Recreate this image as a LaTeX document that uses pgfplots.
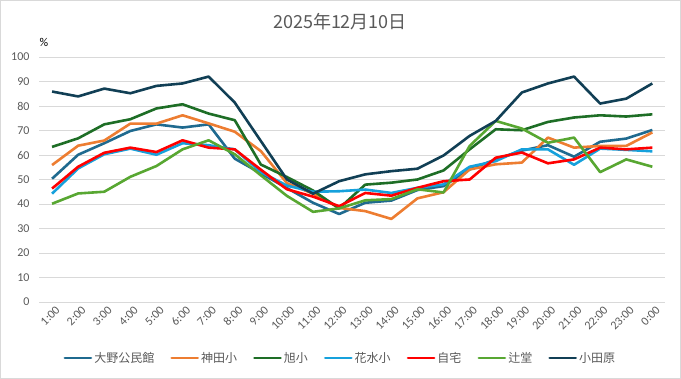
\documentclass[border=0pt]{standalone}
\usepackage{pgfplots}
\pgfplotsset{compat=1.18}
\usepackage{fontspec}
\setmainfont{Carlito}
\newfontfamily\cjk{Noto Sans CJK JP}
\definecolor{txt}{HTML}{595959}
\definecolor{gridc}{HTML}{D9D9D9}
\definecolor{frame}{HTML}{D9D9D9}
\definecolor{cA}{HTML}{1F6A8F}
\definecolor{cB}{HTML}{ED7D31}
\definecolor{cC}{HTML}{1E6E26}
\definecolor{cD}{HTML}{16A1DC}
\definecolor{cE}{HTML}{FF0000}
\definecolor{cF}{HTML}{58A732}
\definecolor{cG}{HTML}{113F55}
\begin{document}
\begin{tikzpicture}[x=1pt,y=1pt]
\draw[draw=frame, line width=0.8pt] (0.4,0.4) rectangle (680.6,378.6);
\node[font=\cjk\fontsize{18}{20}\selectfont, text=txt] at (340,357) {2025年12月10日};
\node[font=\fontsize{12}{14}\selectfont, text=black] at (44,337) {\%};
\begin{axis}[
  at={(39pt,77pt)}, anchor=south west, scale only axis,
  width=626.4pt, height=245pt,
  xmin=0.5, xmax=24.5, ymin=0, ymax=100,
  ytick={0,10,...,100},
  xtick={1,...,24},
  xticklabels={1:00,2:00,3:00,4:00,5:00,6:00,7:00,8:00,9:00,10:00,11:00,12:00,13:00,14:00,15:00,16:00,17:00,18:00,19:00,20:00,21:00,22:00,23:00,0:00},
  ymajorgrids, major grid style={draw=gridc, line width=0.8pt},
  axis line style={draw=none},
  major tick length=0pt,
  /pgf/number format/assume math mode=true,
  tick label style={font=\fontsize{12}{14}\selectfont, text=txt},
  xticklabel style={rotate=45, anchor=north east, xshift=3pt, yshift=-1pt},
  yticklabel style={xshift=-6pt},
  legend columns=7,
  legend style={at={(0.481,-0.2286)}, anchor=center, draw=none, fill=none,
    font=\cjk\fontsize{12}{14}\selectfont, text=txt,
    /tikz/every even column/.append style={column sep=14pt}},
  legend image code/.code={\draw[#1, line width=2.8pt, line cap=round] (0pt,0pt) -- (26pt,0pt);},
  every axis plot/.append style={line width=2.6pt, line join=round, mark=none},
]
\addplot[cA] coordinates {(1,50.3)(2,60.1)(3,64.8)(4,69.8)(5,72.5)(6,71.2)(7,72.5)(8,58.5)(9,52.5)(10,46.5)(11,40.5)(12,35.9)(13,40.5)(14,41.4)(15,45.7)(16,47.3)(17,54.1)(18,58.2)(19,61.8)(20,64)(21,59.3)(22,65.4)(23,66.7)(24,70.2)};
\addlegendentry{大野公民館}
\addplot[cB] coordinates {(1,55.9)(2,63.8)(3,65.9)(4,72.8)(5,72.8)(6,76.2)(7,72.9)(8,69.5)(9,61.6)(10,48.5)(11,44.2)(12,38.4)(13,37.1)(14,33.9)(15,42.3)(16,44.8)(17,54.1)(18,56.2)(19,56.9)(20,67.1)(21,63)(22,63.7)(23,63.7)(24,69.2)};
\addlegendentry{神田小}
\addplot[cC] coordinates {(1,63.3)(2,66.8)(3,72.5)(4,74.6)(5,79)(6,80.7)(7,76.9)(8,74.2)(9,56.1)(10,51)(11,45.5)(12,38.2)(13,47.9)(14,48.7)(15,50)(16,53.7)(17,62.3)(18,70.5)(19,70.1)(20,73.5)(21,75.3)(22,76.2)(23,75.7)(24,76.6)};
\addlegendentry{旭小}
\addplot[cD] coordinates {(1,44.2)(2,54.5)(3,60.3)(4,62.6)(5,60.1)(6,64.8)(7,64)(8,62.3)(9,53)(10,47.5)(11,45)(12,45.2)(13,45.9)(14,44.5)(15,46.6)(16,48)(17,55.2)(18,57.5)(19,62.3)(20,62.3)(21,56)(22,62.6)(23,62.1)(24,61.5)};
\addlegendentry{花水小}
\addplot[cE] coordinates {(1,46.3)(2,55.2)(3,60.9)(4,63)(5,61.2)(6,66)(7,63)(8,62.3)(9,54)(10,46)(11,43)(12,39.1)(13,44.5)(14,43.4)(15,46.6)(16,49.3)(17,50)(18,58.9)(19,61)(20,56.6)(21,58.2)(22,63)(23,62.3)(24,63)};
\addlegendentry{自宅}
\addplot[cF] coordinates {(1,40.1)(2,44.3)(3,45)(4,51.1)(5,55.5)(6,62.3)(7,66)(8,60.3)(9,51.7)(10,43.3)(11,36.8)(12,38.2)(13,41.5)(14,42)(15,46)(16,44.7)(17,63.7)(18,73.9)(19,70.8)(20,65)(21,67.1)(22,53)(23,58.2)(24,55.2)};
\addlegendentry{辻堂}
\addplot[cG] coordinates {(1,85.9)(2,83.9)(3,87.1)(4,85.2)(5,88.2)(6,89.2)(7,92)(8,81.4)(9,65.7)(10,50)(11,44.2)(12,49.3)(13,52.1)(14,53.4)(15,54.4)(16,59.8)(17,67.8)(18,73.9)(19,85.5)(20,89.2)(21,92)(22,81)(23,83)(24,89.2)};
\addlegendentry{小田原}
\end{axis}
\end{tikzpicture}
\end{document}
